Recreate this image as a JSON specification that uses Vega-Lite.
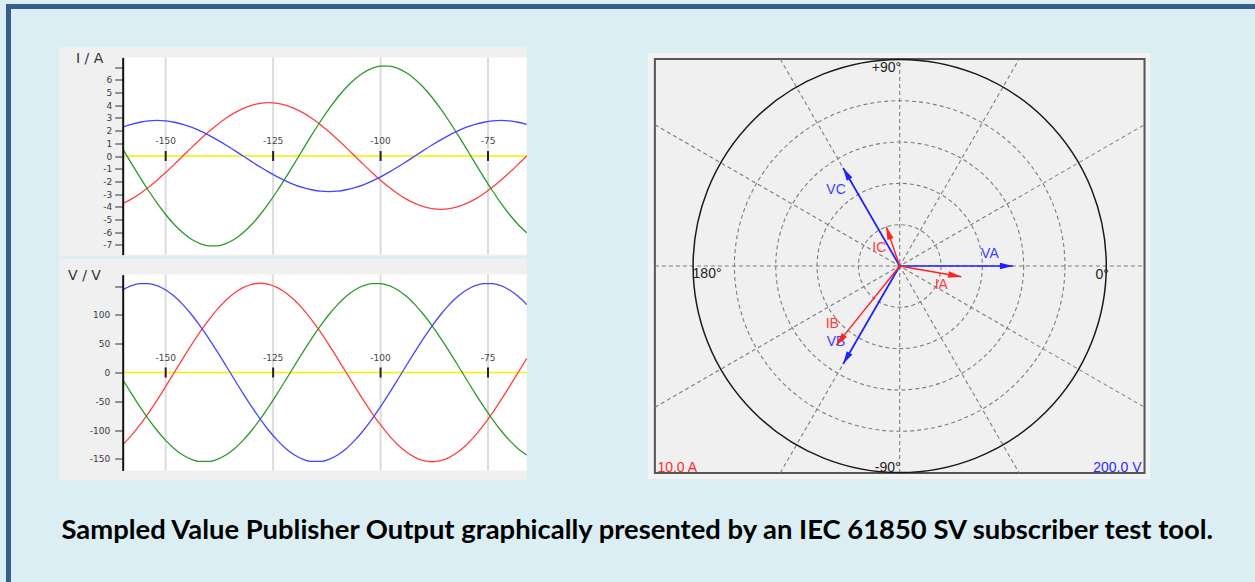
{
"$schema": "https://vega.github.io/schema/vega-lite/v6.json",
"width": 1246.5,
"height": 575.5,
"autosize": "none",
"padding": {"left": 8.5, "top": 6.5, "right": 0, "bottom": 0},
"background": "#daeef3",
"title": {"text": "Sampled Value Publisher Output graphically presented by an IEC 61850 SV subscriber test tool.", "orient": "bottom", "anchor": "middle", "frame": "group", "offset": -43, "baseline": "alphabetic", "font": "Lato", "fontSize": 27.4, "fontWeight": "bold", "color": "#000000", "dx": 5.5},
"config": {
  "view": {"stroke": "#395d8b", "strokeWidth": 5, "strokeDash": [1246.5, 1822, 575.5, 0], "strokeCap": "square"},
  "locale": {"number": {"decimal": ".", "thousands": ",", "grouping": [3], "currency": ["$", ""], "minus": "-"}}
},
"datasets": {
"one": [{"k": 1}],
"xt": [{"x": -150}, {"x": -125}, {"x": -100}, {"x": -75}],
"radial": [
 {"id": "a", "x": -237, "y": 0}, {"id": "a", "x": 237, "y": 0},
 {"id": "b", "x": -237, "y": -136.8}, {"id": "b", "x": 237, "y": 136.8},
 {"id": "c", "x": -115.6, "y": -200.3}, {"id": "c", "x": 115.6, "y": 200.3},
 {"id": "d", "x": 0, "y": -200.3}, {"id": "d", "x": 0, "y": 200.3},
 {"id": "e", "x": -115.6, "y": 200.3}, {"id": "e", "x": 115.6, "y": -200.3},
 {"id": "f", "x": -237, "y": 136.8}, {"id": "f", "x": 237, "y": -136.8}
],
"rings": [{"r": 40}, {"r": 80}, {"r": 120}, {"r": 160}],
"outer": [{"r": 200}],
"alab_rt": [{"t": "+90°", "x": 0, "y": 200.3}, {"t": "0°", "x": 201, "y": 0}],
"alab_lt": [{"t": "180°", "x": -200.5, "y": 0}],
"alab_rb": [{"t": "-90°", "x": 0, "y": -200.3}],
"pv": [{"n": "VA", "re": 109.6, "im": 0, "deg": 0}, {"n": "VB", "re": -54.8, "im": -94.9, "deg": -120}, {"n": "VC", "re": -54.8, "im": 94.9, "deg": 120}],
"pi": [{"n": "IA", "re": 2.98, "im": -0.52, "deg": -9.9}, {"n": "IB", "re": -3.07, "im": -3.83, "deg": -128.7}, {"n": "IC", "re": -0.65, "im": 1.9, "deg": 108.9}],
"pvl": [{"n": "VA", "x": 0, "y": 0}, {"n": "VA", "x": 109.6, "y": 0}, {"n": "VB", "x": 0, "y": 0}, {"n": "VB", "x": -54.8, "y": -94.9}, {"n": "VC", "x": 0, "y": 0}, {"n": "VC", "x": -54.8, "y": 94.9}],
"pil": [{"n": "IA", "x": 0, "y": 0}, {"n": "IA", "x": 2.98, "y": -0.52}, {"n": "IB", "x": 0, "y": 0}, {"n": "IB", "x": -3.07, "y": -3.83}, {"n": "IC", "x": 0, "y": 0}, {"n": "IC", "x": -0.65, "y": 1.9}],
"wi": [
{"s":"IA","x":-160,"y":-3.74},{"s":"IA","x":-158,"y":-3.40},{"s":"IA","x":-156,"y":-2.97},{"s":"IA","x":-154,"y":-2.47},{"s":"IA","x":-152,"y":-1.91},{"s":"IA","x":-150,"y":-1.30},{"s":"IA","x":-148,"y":-0.66},{"s":"IA","x":-146,"y":0},{"s":"IA","x":-144,"y":0.66},{"s":"IA","x":-142,"y":1.30},{"s":"IA","x":-140,"y":1.91},{"s":"IA","x":-138,"y":2.47},{"s":"IA","x":-136,"y":2.97},{"s":"IA","x":-134,"y":3.40},{"s":"IA","x":-132,"y":3.74},{"s":"IA","x":-130,"y":3.99},{"s":"IA","x":-128,"y":4.15},{"s":"IA","x":-126,"y":4.20},{"s":"IA","x":-124,"y":4.15},{"s":"IA","x":-122,"y":3.99},{"s":"IA","x":-120,"y":3.74},{"s":"IA","x":-118,"y":3.40},{"s":"IA","x":-116,"y":2.97},{"s":"IA","x":-114,"y":2.47},{"s":"IA","x":-112,"y":1.91},{"s":"IA","x":-110,"y":1.30},{"s":"IA","x":-108,"y":0.66},{"s":"IA","x":-106,"y":0},{"s":"IA","x":-104,"y":-0.66},{"s":"IA","x":-102,"y":-1.30},{"s":"IA","x":-100,"y":-1.91},{"s":"IA","x":-98,"y":-2.47},{"s":"IA","x":-96,"y":-2.97},{"s":"IA","x":-94,"y":-3.40},{"s":"IA","x":-92,"y":-3.74},{"s":"IA","x":-90,"y":-3.99},{"s":"IA","x":-88,"y":-4.15},{"s":"IA","x":-86,"y":-4.20},{"s":"IA","x":-84,"y":-4.15},{"s":"IA","x":-82,"y":-3.99},{"s":"IA","x":-80,"y":-3.74},{"s":"IA","x":-78,"y":-3.40},{"s":"IA","x":-76,"y":-2.97},{"s":"IA","x":-74,"y":-2.47},{"s":"IA","x":-72,"y":-1.91},{"s":"IA","x":-70,"y":-1.30},{"s":"IA","x":-68,"y":-0.66},{"s":"IA","x":-66,"y":0},
{"s":"IB","x":-160,"y":0.56},{"s":"IB","x":-158,"y":-0.56},{"s":"IB","x":-156,"y":-1.66},{"s":"IB","x":-154,"y":-2.72},{"s":"IB","x":-152,"y":-3.71},{"s":"IB","x":-150,"y":-4.61},{"s":"IB","x":-148,"y":-5.40},{"s":"IB","x":-146,"y":-6.05},{"s":"IB","x":-144,"y":-6.56},{"s":"IB","x":-142,"y":-6.90},{"s":"IB","x":-140,"y":-7.08},{"s":"IB","x":-138,"y":-7.08},{"s":"IB","x":-136,"y":-6.90},{"s":"IB","x":-134,"y":-6.56},{"s":"IB","x":-132,"y":-6.05},{"s":"IB","x":-130,"y":-5.40},{"s":"IB","x":-128,"y":-4.61},{"s":"IB","x":-126,"y":-3.71},{"s":"IB","x":-124,"y":-2.72},{"s":"IB","x":-122,"y":-1.66},{"s":"IB","x":-120,"y":-0.56},{"s":"IB","x":-118,"y":0.56},{"s":"IB","x":-116,"y":1.66},{"s":"IB","x":-114,"y":2.72},{"s":"IB","x":-112,"y":3.71},{"s":"IB","x":-110,"y":4.61},{"s":"IB","x":-108,"y":5.40},{"s":"IB","x":-106,"y":6.05},{"s":"IB","x":-104,"y":6.56},{"s":"IB","x":-102,"y":6.90},{"s":"IB","x":-100,"y":7.08},{"s":"IB","x":-98,"y":7.08},{"s":"IB","x":-96,"y":6.90},{"s":"IB","x":-94,"y":6.56},{"s":"IB","x":-92,"y":6.05},{"s":"IB","x":-90,"y":5.40},{"s":"IB","x":-88,"y":4.61},{"s":"IB","x":-86,"y":3.71},{"s":"IB","x":-84,"y":2.72},{"s":"IB","x":-82,"y":1.66},{"s":"IB","x":-80,"y":0.56},{"s":"IB","x":-78,"y":-0.56},{"s":"IB","x":-76,"y":-1.66},{"s":"IB","x":-74,"y":-2.72},{"s":"IB","x":-72,"y":-3.71},{"s":"IB","x":-70,"y":-4.61},{"s":"IB","x":-68,"y":-5.40},{"s":"IB","x":-66,"y":-6.05},
{"s":"IC","x":-160,"y":2.27},{"s":"IC","x":-158,"y":2.49},{"s":"IC","x":-156,"y":2.66},{"s":"IC","x":-154,"y":2.77},{"s":"IC","x":-152,"y":2.80},{"s":"IC","x":-150,"y":2.77},{"s":"IC","x":-148,"y":2.66},{"s":"IC","x":-146,"y":2.49},{"s":"IC","x":-144,"y":2.27},{"s":"IC","x":-142,"y":1.98},{"s":"IC","x":-140,"y":1.65},{"s":"IC","x":-138,"y":1.27},{"s":"IC","x":-136,"y":0.87},{"s":"IC","x":-134,"y":0.44},{"s":"IC","x":-132,"y":0},{"s":"IC","x":-130,"y":-0.44},{"s":"IC","x":-128,"y":-0.87},{"s":"IC","x":-126,"y":-1.27},{"s":"IC","x":-124,"y":-1.65},{"s":"IC","x":-122,"y":-1.98},{"s":"IC","x":-120,"y":-2.27},{"s":"IC","x":-118,"y":-2.49},{"s":"IC","x":-116,"y":-2.66},{"s":"IC","x":-114,"y":-2.77},{"s":"IC","x":-112,"y":-2.80},{"s":"IC","x":-110,"y":-2.77},{"s":"IC","x":-108,"y":-2.66},{"s":"IC","x":-106,"y":-2.49},{"s":"IC","x":-104,"y":-2.27},{"s":"IC","x":-102,"y":-1.98},{"s":"IC","x":-100,"y":-1.65},{"s":"IC","x":-98,"y":-1.27},{"s":"IC","x":-96,"y":-0.87},{"s":"IC","x":-94,"y":-0.44},{"s":"IC","x":-92,"y":0},{"s":"IC","x":-90,"y":0.44},{"s":"IC","x":-88,"y":0.87},{"s":"IC","x":-86,"y":1.27},{"s":"IC","x":-84,"y":1.65},{"s":"IC","x":-82,"y":1.98},{"s":"IC","x":-80,"y":2.27},{"s":"IC","x":-78,"y":2.49},{"s":"IC","x":-76,"y":2.66},{"s":"IC","x":-74,"y":2.77},{"s":"IC","x":-72,"y":2.80},{"s":"IC","x":-70,"y":2.77},{"s":"IC","x":-68,"y":2.66},{"s":"IC","x":-66,"y":2.49}
],
"wv": [
{"s":"VA","x":-160,"y":-125.4},{"s":"VA","x":-158,"y":-109.6},{"s":"VA","x":-156,"y":-91.1},{"s":"VA","x":-154,"y":-70.4},{"s":"VA","x":-152,"y":-47.9},{"s":"VA","x":-150,"y":-24.2},{"s":"VA","x":-148,"y":0},{"s":"VA","x":-146,"y":24.2},{"s":"VA","x":-144,"y":47.9},{"s":"VA","x":-142,"y":70.4},{"s":"VA","x":-140,"y":91.1},{"s":"VA","x":-138,"y":109.6},{"s":"VA","x":-136,"y":125.4},{"s":"VA","x":-134,"y":138.1},{"s":"VA","x":-132,"y":147.4},{"s":"VA","x":-130,"y":153.1},{"s":"VA","x":-128,"y":155},{"s":"VA","x":-126,"y":153.1},{"s":"VA","x":-124,"y":147.4},{"s":"VA","x":-122,"y":138.1},{"s":"VA","x":-120,"y":125.4},{"s":"VA","x":-118,"y":109.6},{"s":"VA","x":-116,"y":91.1},{"s":"VA","x":-114,"y":70.4},{"s":"VA","x":-112,"y":47.9},{"s":"VA","x":-110,"y":24.2},{"s":"VA","x":-108,"y":0},{"s":"VA","x":-106,"y":-24.2},{"s":"VA","x":-104,"y":-47.9},{"s":"VA","x":-102,"y":-70.4},{"s":"VA","x":-100,"y":-91.1},{"s":"VA","x":-98,"y":-109.6},{"s":"VA","x":-96,"y":-125.4},{"s":"VA","x":-94,"y":-138.1},{"s":"VA","x":-92,"y":-147.4},{"s":"VA","x":-90,"y":-153.1},{"s":"VA","x":-88,"y":-155},{"s":"VA","x":-86,"y":-153.1},{"s":"VA","x":-84,"y":-147.4},{"s":"VA","x":-82,"y":-138.1},{"s":"VA","x":-80,"y":-125.4},{"s":"VA","x":-78,"y":-109.6},{"s":"VA","x":-76,"y":-91.1},{"s":"VA","x":-74,"y":-70.4},{"s":"VA","x":-72,"y":-47.9},{"s":"VA","x":-70,"y":-24.2},{"s":"VA","x":-68,"y":0},{"s":"VA","x":-66,"y":24.2},
{"s":"VB","x":-160,"y":-12.2},{"s":"VB","x":-158,"y":-36.2},{"s":"VB","x":-156,"y":-59.3},{"s":"VB","x":-154,"y":-81.0},{"s":"VB","x":-152,"y":-100.7},{"s":"VB","x":-150,"y":-117.9},{"s":"VB","x":-148,"y":-132.2},{"s":"VB","x":-146,"y":-143.2},{"s":"VB","x":-144,"y":-150.7},{"s":"VB","x":-142,"y":-154.5},{"s":"VB","x":-140,"y":-154.5},{"s":"VB","x":-138,"y":-150.7},{"s":"VB","x":-136,"y":-143.2},{"s":"VB","x":-134,"y":-132.2},{"s":"VB","x":-132,"y":-117.9},{"s":"VB","x":-130,"y":-100.7},{"s":"VB","x":-128,"y":-81.0},{"s":"VB","x":-126,"y":-59.3},{"s":"VB","x":-124,"y":-36.2},{"s":"VB","x":-122,"y":-12.2},{"s":"VB","x":-120,"y":12.2},{"s":"VB","x":-118,"y":36.2},{"s":"VB","x":-116,"y":59.3},{"s":"VB","x":-114,"y":81.0},{"s":"VB","x":-112,"y":100.7},{"s":"VB","x":-110,"y":117.9},{"s":"VB","x":-108,"y":132.2},{"s":"VB","x":-106,"y":143.2},{"s":"VB","x":-104,"y":150.7},{"s":"VB","x":-102,"y":154.5},{"s":"VB","x":-100,"y":154.5},{"s":"VB","x":-98,"y":150.7},{"s":"VB","x":-96,"y":143.2},{"s":"VB","x":-94,"y":132.2},{"s":"VB","x":-92,"y":117.9},{"s":"VB","x":-90,"y":100.7},{"s":"VB","x":-88,"y":81.0},{"s":"VB","x":-86,"y":59.3},{"s":"VB","x":-84,"y":36.2},{"s":"VB","x":-82,"y":12.2},{"s":"VB","x":-80,"y":-12.2},{"s":"VB","x":-78,"y":-36.2},{"s":"VB","x":-76,"y":-59.3},{"s":"VB","x":-74,"y":-81.0},{"s":"VB","x":-72,"y":-100.7},{"s":"VB","x":-70,"y":-117.9},{"s":"VB","x":-68,"y":-132.2},{"s":"VB","x":-66,"y":-143.2},
{"s":"VC","x":-160,"y":143.2},{"s":"VC","x":-158,"y":150.7},{"s":"VC","x":-156,"y":154.5},{"s":"VC","x":-154,"y":154.5},{"s":"VC","x":-152,"y":150.7},{"s":"VC","x":-150,"y":143.2},{"s":"VC","x":-148,"y":132.2},{"s":"VC","x":-146,"y":117.9},{"s":"VC","x":-144,"y":100.7},{"s":"VC","x":-142,"y":81.0},{"s":"VC","x":-140,"y":59.3},{"s":"VC","x":-138,"y":36.2},{"s":"VC","x":-136,"y":12.2},{"s":"VC","x":-134,"y":-12.2},{"s":"VC","x":-132,"y":-36.2},{"s":"VC","x":-130,"y":-59.3},{"s":"VC","x":-128,"y":-81.0},{"s":"VC","x":-126,"y":-100.7},{"s":"VC","x":-124,"y":-117.9},{"s":"VC","x":-122,"y":-132.2},{"s":"VC","x":-120,"y":-143.2},{"s":"VC","x":-118,"y":-150.7},{"s":"VC","x":-116,"y":-154.5},{"s":"VC","x":-114,"y":-154.5},{"s":"VC","x":-112,"y":-150.7},{"s":"VC","x":-110,"y":-143.2},{"s":"VC","x":-108,"y":-132.2},{"s":"VC","x":-106,"y":-117.9},{"s":"VC","x":-104,"y":-100.7},{"s":"VC","x":-102,"y":-81.0},{"s":"VC","x":-100,"y":-59.3},{"s":"VC","x":-98,"y":-36.2},{"s":"VC","x":-96,"y":-12.2},{"s":"VC","x":-94,"y":12.2},{"s":"VC","x":-92,"y":36.2},{"s":"VC","x":-90,"y":59.3},{"s":"VC","x":-88,"y":81.0},{"s":"VC","x":-86,"y":100.7},{"s":"VC","x":-84,"y":117.9},{"s":"VC","x":-82,"y":132.2},{"s":"VC","x":-80,"y":143.2},{"s":"VC","x":-78,"y":150.7},{"s":"VC","x":-76,"y":154.5},{"s":"VC","x":-74,"y":154.5},{"s":"VC","x":-72,"y":150.7},{"s":"VC","x":-70,"y":143.2},{"s":"VC","x":-68,"y":132.2},{"s":"VC","x":-66,"y":117.9}
]
},
"resolve": {"scale": {"x": "independent", "y": "independent"}},
"layer": [
  {"data": {"name": "one"}, "mark": {"type": "rect", "fill": "#f0f0f0"},
   "encoding": {"x": {"datum": -174.83, "type": "quantitative", "scale": {"domain": [-160, -66], "range": [114.2, 518.2], "nice": false, "zero": false}, "axis": null}, "x2": {"datum": -66},
                "y": {"datum": -7.9, "type": "quantitative", "scale": {"domain": [-7.77, 7.77], "range": [248.1, 50.9], "nice": false, "zero": false}, "axis": null}, "y2": {"datum": 8.566}}},
  {"data": {"name": "one"}, "mark": {"type": "rect", "fill": "#ffffff"},
   "encoding": {"x": {"datum": -160, "type": "quantitative", "scale": {"domain": [-160, -66], "range": [114.2, 518.2], "nice": false, "zero": false}, "axis": null}, "x2": {"datum": -66},
                "y": {"datum": -7.77, "type": "quantitative", "scale": {"domain": [-7.77, 7.77], "range": [248.1, 50.9], "nice": false, "zero": false}, "axis": null}, "y2": {"datum": 7.77}}},
  {"data": {"name": "xt"}, "mark": {"type": "rule", "color": "#dcdcdc", "strokeWidth": 2},
   "encoding": {"x": {"field": "x", "type": "quantitative", "scale": {"domain": [-160, -66], "range": [114.2, 518.2], "nice": false, "zero": false}, "axis": null},
                "y": {"datum": -7.77, "type": "quantitative", "scale": {"domain": [-7.77, 7.77], "range": [248.1, 50.9], "nice": false, "zero": false}, "axis": null}, "y2": {"datum": 7.77}}},
  {"data": {"name": "one"}, "mark": {"type": "rect", "fill": "#f2f200"},
   "encoding": {"x": {"datum": -160, "type": "quantitative", "scale": {"domain": [-160, -66], "range": [114.2, 518.2], "nice": false, "zero": false}, "axis": null}, "x2": {"datum": -66},
                "y": {"datum": -0.06, "type": "quantitative", "scale": {"domain": [-7.77, 7.77], "range": [248.1, 50.9], "nice": false, "zero": false}, "axis": null}, "y2": {"datum": 0.06}}},
  {"data": {"name": "xt"}, "mark": {"type": "rule", "color": "#222222", "strokeWidth": 2},
   "encoding": {"x": {"field": "x", "type": "quantitative", "scale": {"domain": [-160, -66], "range": [114.2, 518.2], "nice": false, "zero": false}, "axis": null},
                "y": {"datum": -0.39, "type": "quantitative", "scale": {"domain": [-7.77, 7.77], "range": [248.1, 50.9], "nice": false, "zero": false}, "axis": null}, "y2": {"datum": 0.39}}},
  {"data": {"name": "xt"}, "mark": {"type": "text", "dy": -15, "font": "DejaVu Sans", "fontSize": 9, "color": "#444444"},
   "encoding": {"x": {"field": "x", "type": "quantitative", "scale": {"domain": [-160, -66], "range": [114.2, 518.2], "nice": false, "zero": false}, "axis": null},
                "y": {"datum": 0, "type": "quantitative", "scale": {"domain": [-7.77, 7.77], "range": [248.1, 50.9], "nice": false, "zero": false}, "axis": null},
                "text": {"field": "x", "type": "quantitative"}}},
  {"data": {"name": "wi"}, "mark": {"type": "line", "strokeWidth": 1.3, "interpolate": "monotone"},
   "encoding": {"x": {"field": "x", "type": "quantitative", "scale": {"domain": [-160, -66], "range": [114.2, 518.2], "nice": false, "zero": false}, "axis": null},
                "y": {"field": "y", "type": "quantitative", "scale": {"domain": [-7.77, 7.77], "range": [248.1, 50.9], "nice": false, "zero": false},
                      "axis": {"orient": "left", "offset": -114.2, "values": [-7, -6, -5, -4, -3, -2, -1, 0, 1, 2, 3, 4, 5, 6, 7], "labelExpr": "datum.value == 7 ? '' : datum.label", "title": "I / A", "titleAngle": 0, "titleAlign": "center", "titleBaseline": "alphabetic", "titleX": -33.5, "titleY": 55.5, "titleFont": "DejaVu Sans", "titleFontSize": 14, "titleFontWeight": "normal", "titleColor": "#333333", "domainColor": "#111111", "domainWidth": 2, "tickColor": "#333333", "tickSize": 8, "tickWidth": 1, "labelFont": "DejaVu Sans", "labelFontSize": 9, "labelColor": "#3a3a3a", "labelPadding": 3, "labelFlush": false, "labelOverlap": false, "grid": false, "zindex": 1}},
                "color": {"field": "s", "type": "nominal", "scale": {"domain": ["IA", "IB", "IC", "VA", "VB", "VC"], "range": ["#ff4040", "#2a9a2a", "#4545ff", "#ff4040", "#2a9a2a", "#4545ff"]}, "legend": null}}},

  {"data": {"name": "one"}, "mark": {"type": "rect", "fill": "#f0f0f0"},
   "encoding": {"x": {"datum": -174.83, "type": "quantitative", "scale": {"domain": [-160, -66], "range": [114.2, 518.2], "nice": false, "zero": false}, "axis": null}, "x2": {"datum": -66},
                "y": {"datum": -186.6, "type": "quantitative", "scale": {"domain": [-170, 170], "range": [463.9, 268.1], "nice": false, "zero": false}, "axis": null}, "y2": {"datum": 197}}},
  {"data": {"name": "one"}, "mark": {"type": "rect", "fill": "#ffffff"},
   "encoding": {"x": {"datum": -160, "type": "quantitative", "scale": {"domain": [-160, -66], "range": [114.2, 518.2], "nice": false, "zero": false}, "axis": null}, "x2": {"datum": -66},
                "y": {"datum": -170, "type": "quantitative", "scale": {"domain": [-170, 170], "range": [463.9, 268.1], "nice": false, "zero": false}, "axis": null}, "y2": {"datum": 170}}},
  {"data": {"name": "xt"}, "mark": {"type": "rule", "color": "#dcdcdc", "strokeWidth": 2},
   "encoding": {"x": {"field": "x", "type": "quantitative", "scale": {"domain": [-160, -66], "range": [114.2, 518.2], "nice": false, "zero": false}, "axis": null},
                "y": {"datum": -170, "type": "quantitative", "scale": {"domain": [-170, 170], "range": [463.9, 268.1], "nice": false, "zero": false}, "axis": null}, "y2": {"datum": 170}}},
  {"data": {"name": "one"}, "mark": {"type": "rect", "fill": "#f2f200"},
   "encoding": {"x": {"datum": -160, "type": "quantitative", "scale": {"domain": [-160, -66], "range": [114.2, 518.2], "nice": false, "zero": false}, "axis": null}, "x2": {"datum": -66},
                "y": {"datum": -1.3, "type": "quantitative", "scale": {"domain": [-170, 170], "range": [463.9, 268.1], "nice": false, "zero": false}, "axis": null}, "y2": {"datum": 1.3}}},
  {"data": {"name": "xt"}, "mark": {"type": "rule", "color": "#222222", "strokeWidth": 2},
   "encoding": {"x": {"field": "x", "type": "quantitative", "scale": {"domain": [-160, -66], "range": [114.2, 518.2], "nice": false, "zero": false}, "axis": null},
                "y": {"datum": -8.7, "type": "quantitative", "scale": {"domain": [-170, 170], "range": [463.9, 268.1], "nice": false, "zero": false}, "axis": null}, "y2": {"datum": 8.7}}},
  {"data": {"name": "xt"}, "mark": {"type": "text", "dy": -15, "font": "DejaVu Sans", "fontSize": 9, "color": "#444444"},
   "encoding": {"x": {"field": "x", "type": "quantitative", "scale": {"domain": [-160, -66], "range": [114.2, 518.2], "nice": false, "zero": false}, "axis": null},
                "y": {"datum": 0, "type": "quantitative", "scale": {"domain": [-170, 170], "range": [463.9, 268.1], "nice": false, "zero": false}, "axis": null},
                "text": {"field": "x", "type": "quantitative"}}},
  {"data": {"name": "wv"}, "mark": {"type": "line", "strokeWidth": 1.3, "interpolate": "monotone"},
   "encoding": {"x": {"field": "x", "type": "quantitative", "scale": {"domain": [-160, -66], "range": [114.2, 518.2], "nice": false, "zero": false}, "axis": null},
                "y": {"field": "y", "type": "quantitative", "scale": {"domain": [-170, 170], "range": [463.9, 268.1], "nice": false, "zero": false},
                      "axis": {"orient": "left", "offset": -114.2, "values": [-150, -100, -50, 0, 50, 100, 150], "labelExpr": "datum.value == 150 ? '' : datum.label", "title": "V / V", "titleAngle": 0, "titleAlign": "center", "titleBaseline": "alphabetic", "titleX": -38.7, "titleY": 273, "titleFont": "DejaVu Sans", "titleFontSize": 14, "titleFontWeight": "normal", "titleColor": "#333333", "domainColor": "#111111", "domainWidth": 2, "tickColor": "#333333", "tickSize": 8, "tickWidth": 1, "labelFont": "DejaVu Sans", "labelFontSize": 9, "labelColor": "#3a3a3a", "labelPadding": 5, "labelFlush": false, "labelOverlap": false, "grid": false, "zindex": 1}},
                "color": {"field": "s", "type": "nominal", "scale": {"domain": ["IA", "IB", "IC", "VA", "VB", "VC"], "range": ["#ff4040", "#2a9a2a", "#4545ff", "#ff4040", "#2a9a2a", "#4545ff"]}, "legend": null}}},

  {"data": {"name": "one"}, "mark": {"type": "rect", "fill": "#f3f3f3"},
   "encoding": {"x": {"datum": -243.8, "type": "quantitative", "scale": {"domain": [-250, 250], "range": [632.95, 1149.45], "nice": false, "zero": false}, "axis": null}, "x2": {"datum": 242.5},
                "y": {"datum": -206.3, "type": "quantitative", "scale": {"domain": [-250, 250], "range": [517.75, 1.25], "nice": false, "zero": false}, "axis": null}, "y2": {"datum": 206.3}}},
  {"data": {"name": "one"}, "mark": {"type": "rect", "fill": "#f0f0f0", "stroke": "#555555", "strokeWidth": 2},
   "encoding": {"x": {"datum": -237, "type": "quantitative", "scale": {"domain": [-250, 250], "range": [632.95, 1149.45], "nice": false, "zero": false}, "axis": null}, "x2": {"datum": 237},
                "y": {"datum": -200.3, "type": "quantitative", "scale": {"domain": [-250, 250], "range": [517.75, 1.25], "nice": false, "zero": false}, "axis": null}, "y2": {"datum": 200.3}}},
  {"data": {"name": "radial"}, "mark": {"type": "line", "color": "#7d7d7d", "strokeWidth": 1.1, "strokeDash": [4, 3]},
   "encoding": {"x": {"field": "x", "type": "quantitative", "scale": {"domain": [-250, 250], "range": [632.95, 1149.45], "nice": false, "zero": false}, "axis": null},
                "y": {"field": "y", "type": "quantitative", "scale": {"domain": [-250, 250], "range": [517.75, 1.25], "nice": false, "zero": false}, "axis": null},
                "detail": {"field": "id", "type": "nominal"}}},
  {"data": {"name": "rings"}, "mark": {"type": "point", "shape": "circle", "filled": false, "color": "#7d7d7d", "opacity": 1, "strokeWidth": 1.1, "strokeDash": [4, 3]},
   "encoding": {"x": {"datum": 0, "type": "quantitative", "scale": {"domain": [-250, 250], "range": [632.95, 1149.45], "nice": false, "zero": false}, "axis": null},
                "y": {"datum": 0, "type": "quantitative", "scale": {"domain": [-250, 250], "range": [517.75, 1.25], "nice": false, "zero": false}, "axis": null},
                "size": {"field": "r", "type": "quantitative", "scale": {"type": "pow", "exponent": 2, "domain": [0, 200], "range": [0, 170734]}, "legend": null}}},
  {"data": {"name": "outer"}, "mark": {"type": "point", "shape": "circle", "filled": false, "color": "#1a1a1a", "opacity": 1, "strokeWidth": 1.5},
   "encoding": {"x": {"datum": 0, "type": "quantitative", "scale": {"domain": [-250, 250], "range": [632.95, 1149.45], "nice": false, "zero": false}, "axis": null},
                "y": {"datum": 0, "type": "quantitative", "scale": {"domain": [-250, 250], "range": [517.75, 1.25], "nice": false, "zero": false}, "axis": null},
                "size": {"field": "r", "type": "quantitative", "scale": {"type": "pow", "exponent": 2, "domain": [0, 200], "range": [0, 170734]}, "legend": null}}},
  {"data": {"name": "alab_rt"}, "mark": {"type": "text", "align": "right", "baseline": "top", "dx": 1.5, "dy": 2, "font": "Liberation Sans", "fontSize": 14, "color": "#222222"},
   "encoding": {"x": {"field": "x", "type": "quantitative", "scale": {"domain": [-250, 250], "range": [632.95, 1149.45], "nice": false, "zero": false}, "axis": null},
                "y": {"field": "y", "type": "quantitative", "scale": {"domain": [-250, 250], "range": [517.75, 1.25], "nice": false, "zero": false}, "axis": null}, "text": {"field": "t", "type": "nominal"}}},
  {"data": {"name": "alab_lt"}, "mark": {"type": "text", "align": "left", "baseline": "top", "dy": 1, "font": "Liberation Sans", "fontSize": 14, "color": "#222222"},
   "encoding": {"x": {"field": "x", "type": "quantitative", "scale": {"domain": [-250, 250], "range": [632.95, 1149.45], "nice": false, "zero": false}, "axis": null},
                "y": {"field": "y", "type": "quantitative", "scale": {"domain": [-250, 250], "range": [517.75, 1.25], "nice": false, "zero": false}, "axis": null}, "text": {"field": "t", "type": "nominal"}}},
  {"data": {"name": "alab_rb"}, "mark": {"type": "text", "align": "right", "baseline": "alphabetic", "dx": 1, "dy": -1, "font": "Liberation Sans", "fontSize": 14, "color": "#222222"},
   "encoding": {"x": {"field": "x", "type": "quantitative", "scale": {"domain": [-250, 250], "range": [632.95, 1149.45], "nice": false, "zero": false}, "axis": null},
                "y": {"field": "y", "type": "quantitative", "scale": {"domain": [-250, 250], "range": [517.75, 1.25], "nice": false, "zero": false}, "axis": null}, "text": {"field": "t", "type": "nominal"}}},
  {"data": {"values": [{"t": "10.0 A"}]}, "mark": {"type": "text", "align": "left", "baseline": "alphabetic", "dx": 2.5, "dy": -1, "font": "Liberation Sans", "fontSize": 14, "color": "#ff2a2a"},
   "encoding": {"x": {"datum": -237, "type": "quantitative", "scale": {"domain": [-250, 250], "range": [632.95, 1149.45], "nice": false, "zero": false}, "axis": null},
                "y": {"datum": -200.3, "type": "quantitative", "scale": {"domain": [-250, 250], "range": [517.75, 1.25], "nice": false, "zero": false}, "axis": null}, "text": {"field": "t", "type": "nominal"}}},
  {"data": {"values": [{"t": "200.0 V"}]}, "mark": {"type": "text", "align": "right", "baseline": "alphabetic", "dx": -3, "dy": -1, "font": "Liberation Sans", "fontSize": 14, "color": "#2a2aff"},
   "encoding": {"x": {"datum": 237, "type": "quantitative", "scale": {"domain": [-250, 250], "range": [632.95, 1149.45], "nice": false, "zero": false}, "axis": null},
                "y": {"datum": -200.3, "type": "quantitative", "scale": {"domain": [-250, 250], "range": [517.75, 1.25], "nice": false, "zero": false}, "axis": null}, "text": {"field": "t", "type": "nominal"}}},
  {"data": {"name": "pvl"}, "mark": {"type": "line", "color": "#1f1fff", "strokeWidth": 1.7},
   "encoding": {"x": {"field": "x", "type": "quantitative", "scale": {"domain": [-250, 250], "range": [632.95, 1149.45], "nice": false, "zero": false}, "axis": null},
                "y": {"field": "y", "type": "quantitative", "scale": {"domain": [-250, 250], "range": [517.75, 1.25], "nice": false, "zero": false}, "axis": null},
                "detail": {"field": "n", "type": "nominal"}}},
  {"data": {"name": "pv"}, "mark": {"type": "point", "shape": "M0,0L-1,-0.25L-1,0.25Z", "filled": true, "opacity": 1, "color": "#1f1fff", "size": 676, "strokeWidth": 0},
   "encoding": {"x": {"field": "re", "type": "quantitative", "scale": {"domain": [-250, 250], "range": [632.95, 1149.45], "nice": false, "zero": false}, "axis": null},
                "y": {"field": "im", "type": "quantitative", "scale": {"domain": [-250, 250], "range": [517.75, 1.25], "nice": false, "zero": false}, "axis": null},
                "angle": {"field": "deg", "type": "quantitative", "scale": {"domain": [0, 360], "range": [360, 0]}}}},
  {"data": {"name": "pv"}, "transform": [{"filter": "datum.n == 'VA'"}], "mark": {"type": "text", "dx": -23, "dy": -12, "font": "Liberation Sans", "fontSize": 14, "color": "#3c3cff"},
   "encoding": {"x": {"field": "re", "type": "quantitative", "scale": {"domain": [-250, 250], "range": [632.95, 1149.45], "nice": false, "zero": false}, "axis": null},
                "y": {"field": "im", "type": "quantitative", "scale": {"domain": [-250, 250], "range": [517.75, 1.25], "nice": false, "zero": false}, "axis": null}, "text": {"field": "n", "type": "nominal"}}},
  {"data": {"name": "pv"}, "transform": [{"filter": "datum.n == 'VB'"}], "mark": {"type": "text", "dx": -7, "dy": -22, "font": "Liberation Sans", "fontSize": 14, "color": "#3c3cff"},
   "encoding": {"x": {"field": "re", "type": "quantitative", "scale": {"domain": [-250, 250], "range": [632.95, 1149.45], "nice": false, "zero": false}, "axis": null},
                "y": {"field": "im", "type": "quantitative", "scale": {"domain": [-250, 250], "range": [517.75, 1.25], "nice": false, "zero": false}, "axis": null}, "text": {"field": "n", "type": "nominal"}}},
  {"data": {"name": "pv"}, "transform": [{"filter": "datum.n == 'VC'"}], "mark": {"type": "text", "dx": -7, "dy": 22, "font": "Liberation Sans", "fontSize": 14, "color": "#3c3cff"},
   "encoding": {"x": {"field": "re", "type": "quantitative", "scale": {"domain": [-250, 250], "range": [632.95, 1149.45], "nice": false, "zero": false}, "axis": null},
                "y": {"field": "im", "type": "quantitative", "scale": {"domain": [-250, 250], "range": [517.75, 1.25], "nice": false, "zero": false}, "axis": null}, "text": {"field": "n", "type": "nominal"}}},

  {"data": {"name": "pil"}, "mark": {"type": "line", "color": "#ff2020", "strokeWidth": 1.4},
   "encoding": {"x": {"field": "x", "type": "quantitative", "scale": {"domain": [-12.5, 12.5], "range": [632.95, 1149.45], "nice": false, "zero": false}, "axis": null},
                "y": {"field": "y", "type": "quantitative", "scale": {"domain": [-12.5, 12.5], "range": [517.75, 1.25], "nice": false, "zero": false}, "axis": null},
                "detail": {"field": "n", "type": "nominal"}}},
  {"data": {"name": "pi"}, "mark": {"type": "point", "shape": "M0,0L-1,-0.25L-1,0.25Z", "filled": true, "opacity": 1, "color": "#ff2020", "size": 676, "strokeWidth": 0},
   "encoding": {"x": {"field": "re", "type": "quantitative", "scale": {"domain": [-12.5, 12.5], "range": [632.95, 1149.45], "nice": false, "zero": false}, "axis": null},
                "y": {"field": "im", "type": "quantitative", "scale": {"domain": [-12.5, 12.5], "range": [517.75, 1.25], "nice": false, "zero": false}, "axis": null},
                "angle": {"field": "deg", "type": "quantitative", "scale": {"domain": [0, 360], "range": [360, 0]}}}},
  {"data": {"name": "pi"}, "transform": [{"filter": "datum.n == 'IA'"}], "mark": {"type": "text", "dx": -20, "dy": 8, "font": "Liberation Sans", "fontSize": 14, "color": "#ff3c3c"},
   "encoding": {"x": {"field": "re", "type": "quantitative", "scale": {"domain": [-12.5, 12.5], "range": [632.95, 1149.45], "nice": false, "zero": false}, "axis": null},
                "y": {"field": "im", "type": "quantitative", "scale": {"domain": [-12.5, 12.5], "range": [517.75, 1.25], "nice": false, "zero": false}, "axis": null}, "text": {"field": "n", "type": "nominal"}}},
  {"data": {"name": "pi"}, "transform": [{"filter": "datum.n == 'IB'"}], "mark": {"type": "text", "dx": -4, "dy": -21, "font": "Liberation Sans", "fontSize": 14, "color": "#ff3c3c"},
   "encoding": {"x": {"field": "re", "type": "quantitative", "scale": {"domain": [-12.5, 12.5], "range": [632.95, 1149.45], "nice": false, "zero": false}, "axis": null},
                "y": {"field": "im", "type": "quantitative", "scale": {"domain": [-12.5, 12.5], "range": [517.75, 1.25], "nice": false, "zero": false}, "axis": null}, "text": {"field": "n", "type": "nominal"}}},
  {"data": {"name": "pi"}, "transform": [{"filter": "datum.n == 'IC'"}], "mark": {"type": "text", "dx": -7, "dy": 21, "font": "Liberation Sans", "fontSize": 14, "color": "#ff3c3c"},
   "encoding": {"x": {"field": "re", "type": "quantitative", "scale": {"domain": [-12.5, 12.5], "range": [632.95, 1149.45], "nice": false, "zero": false}, "axis": null},
                "y": {"field": "im", "type": "quantitative", "scale": {"domain": [-12.5, 12.5], "range": [517.75, 1.25], "nice": false, "zero": false}, "axis": null}, "text": {"field": "n", "type": "nominal"}}}
]
}
